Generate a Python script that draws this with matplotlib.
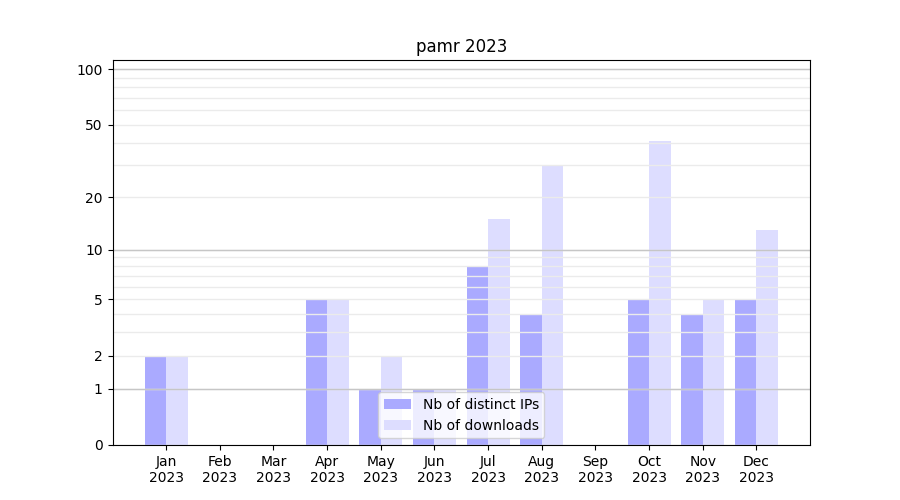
import numpy as np
import matplotlib
matplotlib.use('Agg')
import matplotlib.pyplot as plt

months = ['Jan', 'Feb', 'Mar', 'Apr', 'May', 'Jun',
          'Jul', 'Aug', 'Sep', 'Oct', 'Nov', 'Dec']
year = '2023'
distinct_ips = [2, 0, 0, 5, 1, 1, 8, 4, 0, 5, 4, 5]
downloads = [2, 0, 0, 5, 2, 1, 15, 30, 0, 41, 5, 13]
y_labels = [0, 1, 2, 5, 10, 20, 50, 100]
y_minor = [3, 4, 6, 7, 8, 9, 30, 40, 60, 70, 80, 90]
y_strong = [1, 10, 100]


def forward(y):
    return np.log10(1 + np.maximum(y, 0))


def inverse(y):
    return 10 ** y - 1


def main():
    fig, ax = plt.subplots(figsize=(9, 5), dpi=100)
    x = np.arange(len(months))
    w = 0.4
    ax.bar(x - w / 2, distinct_ips, w, color='#aaaaff', label='Nb of distinct IPs')
    ax.bar(x + w / 2, downloads, w, color='#ddddff', label='Nb of downloads')

    ax.set_yscale('function', functions=(forward, inverse))
    ax.set_ylim(0, 112)
    ax.set_yticks(y_labels)
    ax.set_yticklabels([str(v) for v in y_labels])
    ax.set_yticks(y_minor, minor=True)
    ax.tick_params(axis='y', which='minor', length=0)
    ax.grid(axis='y', which='both', color='#ebebeb', linewidth=1)
    for v in y_strong:
        ax.axhline(v, color='#c6c6c6', linewidth=1)

    ax.set_xticks(x)
    ax.set_xticklabels([m + '\n' + year for m in months])
    ax.set_xlim(-1, len(months))
    ax.set_title('pamr ' + year)
    ax.legend(loc='lower center')
    fig.savefig('out.png')


if __name__ == '__main__':
    main()
